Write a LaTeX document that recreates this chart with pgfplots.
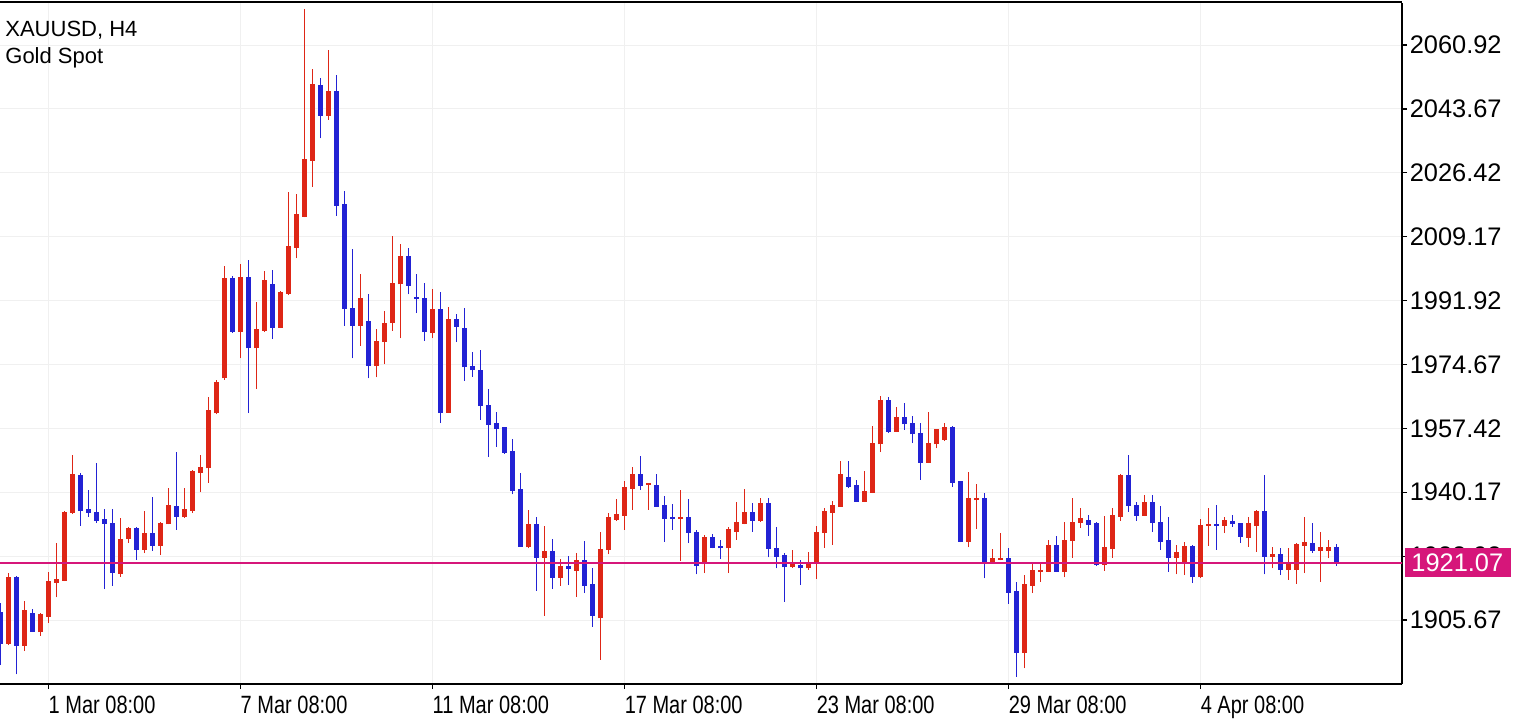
\documentclass[border=0pt]{standalone}
\usepackage{fontspec}
\setmainfont{Liberation Sans}
\usepackage{graphicx}
\usepackage{pgfplots}
\usepackage{pgfplotstable}
\pgfplotsset{compat=1.18}
\definecolor{candleup}{RGB}{222,38,22}
\definecolor{candledn}{RGB}{34,34,212}
\definecolor{bidline}{RGB}{214,22,122}
\newcommand{\xl}[1]{\scalebox{0.8}[1]{#1}}

% 4H candles, k = bar index, o h l c
\pgfplotstableread{
k o h l c
1 1899.2 1918.3 1898.9 1917.4
3 1898.7 1910.8 1897.3 1908.4
5 1902.4 1907.6 1901.4 1907.3
6 1906.6 1918.6 1904.8 1916.2
7 1915.7 1926.4 1911.8 1916.7
8 1916.3 1935.2 1916.2 1934.9
9 1934.5 1950.2 1934.4 1945.1
15 1918.1 1933.1 1917.4 1927.5
16 1927.5 1930.8 1926.4 1930.6
18 1924.6 1935.1 1923.7 1929.1
20 1925.7 1932.1 1923.2 1931.9
21 1931.5 1941.2 1931.5 1936.6
23 1933.4 1941.2 1933.3 1935.6
24 1935.1 1946.2 1934.5 1946.0
25 1945.4 1950.2 1940.2 1947.1
26 1946.6 1965.8 1942.7 1962.4
27 1961.5 1970.5 1961.2 1970.0
28 1970.9 2001.3 1970.5 1997.9
30 1983.5 2001.8 1976.3 1998.4
32 1979.0 1991.5 1968.0 1984.2
33 1983.8 1999.9 1983.4 1997.5
35 1984.6 1994.5 1984.5 1994.3
36 1993.7 2021.2 1993.4 2006.7
37 2006.2 2020.7 2003.3 2015.2
38 2014.6 2070.6 2014.4 2030.1
39 2029.7 2054.4 2022.7 2050.4
41 2041.8 2059.6 2040.7 2048.5
45 1985.1 1999.1 1979.7 1992.5
47 1974.3 1984.2 1971.2 1981.0
48 1980.7 1989.1 1974.7 1985.8
49 1985.8 2009.4 1983.8 1996.6
50 1996.3 2007.2 1981.7 2004.0
54 1983.1 1995.0 1981.7 1989.6
56 1961.6 1990.1 1961.5 1986.9
66 1925.3 1935.4 1925.0 1931.6
68 1922.5 1931.1 1906.8 1924.3
70 1917.1 1922.1 1914.9 1920.3
72 1919.0 1923.7 1912.0 1921.9
75 1906.1 1929.5 1894.9 1924.8
76 1924.6 1934.5 1923.4 1933.4
77 1932.7 1938.3 1932.4 1934.2
78 1933.8 1943.2 1930.0 1941.7
79 1941.1 1947.1 1935.4 1945.1
81 1942.1 1942.6 1935.4 1942.6
85 1932.9 1940.8 1921.7 1933.4
88 1920.7 1928.6 1918.3 1928.2
91 1925.0 1930.9 1918.3 1930.2
92 1929.5 1937.6 1927.3 1932.2
93 1931.6 1941.0 1931.5 1934.9
95 1932.5 1938.5 1932.2 1937.2
99 1919.9 1924.6 1919.8 1921.1
101 1919.6 1924.0 1919.2 1921.1
102 1921.1 1931.1 1916.7 1929.4
103 1929.1 1936.0 1925.2 1935.2
104 1934.6 1937.7 1926.0 1936.7
105 1936.3 1948.6 1936.2 1945.1
108 1937.6 1946.0 1937.5 1940.5
109 1940.0 1958.1 1939.9 1953.4
110 1953.1 1966.2 1951.0 1965.1
112 1956.5 1963.3 1956.4 1960.6
116 1948.1 1961.8 1948.0 1953.5
117 1953.1 1957.2 1952.0 1957.2
118 1954.3 1958.8 1954.0 1957.9
121 1926.8 1945.6 1925.3 1938.5
122 1938.0 1942.5 1930.2 1938.5
124 1921.2 1924.8 1921.1 1922.3
125 1921.9 1929.2 1921.8 1922.3
128 1896.7 1917.8 1892.6 1915.4
129 1914.9 1921.0 1912.9 1919.2
130 1918.7 1921.0 1916.0 1919.2
131 1918.7 1927.3 1918.6 1925.9
133 1918.7 1932.2 1917.2 1927.3
134 1927.0 1938.5 1922.5 1932.2
135 1931.8 1935.8 1930.6 1933.3
138 1920.5 1933.8 1919.0 1925.3
139 1924.8 1935.8 1922.5 1934.0
140 1933.6 1945.1 1932.5 1944.8
143 1933.8 1939.4 1933.7 1937.5
147 1922.5 1925.9 1918.0 1924.0
148 1921.4 1926.8 1917.8 1925.7
150 1917.2 1932.9 1917.1 1931.3
151 1931.1 1935.8 1925.7 1931.6
153 1931.1 1933.4 1929.1 1932.7
156 1927.9 1933.6 1925.5 1931.8
157 1931.1 1935.4 1924.1 1935.2
159 1922.8 1925.3 1919.6 1923.5
161 1919.2 1925.0 1916.5 1921.4
162 1919.2 1926.4 1915.4 1926.2
163 1925.7 1933.4 1918.3 1926.8
165 1924.4 1929.5 1916.0 1925.5
166 1924.4 1927.3 1922.3 1925.3
}\upbars

\pgfplotstableread{
k o h l c
0 1907.9 1910.3 1893.5 1899.2
2 1917.4 1917.6 1891.0 1898.7
4 1907.5 1908.6 1902.4 1902.5
10 1944.8 1945.3 1931.1 1935.2
11 1935.6 1940.8 1933.6 1934.5
12 1934.8 1948.0 1931.8 1932.4
13 1932.9 1935.6 1914.0 1931.6
14 1931.8 1935.6 1914.9 1918.3
17 1930.6 1930.8 1921.9 1924.6
19 1929.1 1938.8 1924.4 1925.7
22 1936.5 1951.0 1930.0 1933.6
29 1998.1 1998.6 1983.2 1983.5
31 1998.4 2002.9 1961.5 1979.0
34 1996.5 2000.2 1981.5 1984.6
40 2050.1 2051.9 2035.7 2041.8
42 2048.5 2052.8 2014.8 2017.5
43 2017.9 2021.5 1985.1 1989.6
44 1989.8 2005.8 1976.3 1985.1
46 1986.4 1993.7 1970.9 1974.3
51 2004.0 2006.0 1993.6 1995.9
52 1992.8 1999.1 1988.5 1992.3
53 1992.5 1996.6 1981.1 1983.4
55 1989.6 1994.2 1958.8 1961.5
57 1986.9 1988.2 1980.7 1984.9
58 1984.4 1989.8 1970.3 1973.9
59 1974.3 1978.0 1971.4 1973.1
60 1973.2 1978.6 1959.7 1963.4
61 1963.7 1968.0 1949.8 1958.3
62 1958.8 1961.8 1952.5 1957.2
63 1957.7 1957.8 1950.5 1950.8
64 1951.3 1954.5 1939.6 1940.5
65 1941.0 1945.3 1925.4 1925.5
67 1931.6 1933.4 1913.6 1922.5
69 1924.3 1927.5 1914.0 1917.1
71 1920.3 1923.0 1915.1 1919.4
73 1921.9 1927.0 1912.9 1914.9
74 1915.4 1919.8 1903.9 1906.8
80 1945.1 1950.0 1940.8 1941.9
82 1942.1 1945.1 1936.3 1936.3
83 1936.7 1939.2 1926.8 1932.9
84 1933.4 1937.0 1930.0 1932.9
86 1933.6 1938.3 1926.4 1929.1
87 1929.5 1930.0 1918.0 1920.3
89 1928.2 1928.8 1925.0 1925.2
90 1925.7 1927.3 1922.1 1925.0
94 1934.9 1937.2 1929.5 1932.5
96 1937.2 1938.5 1922.6 1924.8
97 1925.0 1930.9 1919.6 1922.8
98 1923.2 1923.7 1910.6 1919.9
100 1920.5 1921.9 1915.1 1919.6
106 1944.2 1948.6 1941.2 1941.7
107 1942.1 1943.5 1937.5 1937.6
111 1965.1 1966.0 1956.1 1956.4
113 1960.6 1964.2 1957.0 1958.5
114 1958.9 1960.8 1953.4 1955.8
115 1956.2 1958.8 1943.5 1948.1
119 1957.9 1958.0 1941.7 1942.7
120 1943.2 1943.3 1926.7 1926.8
123 1938.5 1939.9 1916.9 1921.3
126 1922.3 1925.0 1910.0 1913.0
127 1913.5 1916.0 1890.4 1896.7
132 1925.9 1928.4 1918.6 1918.7
136 1932.7 1934.0 1928.4 1931.3
137 1931.8 1932.2 1920.3 1920.5
141 1944.8 1950.2 1934.9 1936.5
142 1936.7 1937.6 1932.5 1933.8
144 1937.5 1939.4 1929.5 1931.8
145 1932.1 1936.5 1924.6 1926.8
146 1927.3 1933.4 1918.7 1922.5
149 1925.7 1925.8 1915.6 1917.2
152 1931.6 1936.7 1924.6 1931.1
154 1932.5 1934.0 1930.9 1931.5
155 1931.9 1932.0 1926.5 1928.2
158 1935.2 1944.8 1918.0 1922.8
160 1923.5 1925.0 1917.8 1919.2
164 1926.4 1931.9 1923.7 1924.4
167 1925.3 1926.1 1920.3 1921.07
}\downbars

\pgfplotsset{
  candle/.style 2 args={only marks, mark=*, mark options={opacity=0},
    error bars/.cd, y dir=plus, y explicit, error mark=none,
    error bar style={line width=#2, draw=#1, opacity=1}},
}

\begin{document}
\begin{tikzpicture}
\begin{axis}[
  at={(0pt,-342pt)}, anchor=south west,
  scale only axis, width=701pt, height=340.5pt,
  xmin=-0.04, xmax=175.2, ymin=1888.39, ymax=2072.26,
  axis x line*=bottom, axis y line*=right,
  axis line style={-, line width=1pt, black},
  tick align=outside, major tick length=2.5pt,
  tick style={black, line width=0.6pt},
  xtick={6,30,54,78,102,126,150},
  xticklabels={\xl{1 Mar 08:00},\xl{7 Mar 08:00},\xl{11 Mar 08:00},\xl{17 Mar 08:00},\xl{23 Mar 08:00},\xl{29 Mar 08:00},\xl{4 Apr 08:00}},
  ytick={1905.67,1922.92,1940.17,1957.42,1974.67,1991.92,2009.17,2026.42,2043.67,2060.92},
  yticklabels={1905.67,1922.92,1940.17,1957.42,1974.67,1991.92,2009.17,2026.42,2043.67,2060.92},
  xticklabel style={anchor=north west, inner sep=0pt, yshift=-3.5pt, font=\fontsize{12.5pt}{14pt}\selectfont},
  yticklabel style={anchor=west, inner sep=0pt, xshift=1.2pt, font=\fontsize{12.7pt}{14pt}\selectfont},
  xmajorgrids, ymajorgrids, grid style={black!6, line width=0.5pt},
]
% wicks
\addplot[candle={candleup}{0.75pt}]
  table[x=k, y=l, y error plus expr=\thisrow{h}-\thisrow{l}] {\upbars};
\addplot[candle={candledn}{0.75pt}]
  table[x=k, y=l, y error plus expr=\thisrow{h}-\thisrow{l}] {\downbars};
% bodies
\addplot[candle={candleup}{2.6pt}]
  table[x=k, y=o, y error plus expr={max(\thisrow{c}-\thisrow{o},0.4)}] {\upbars};
\addplot[candle={candledn}{2.6pt}]
  table[x=k, y=c, y error plus expr={max(\thisrow{o}-\thisrow{c},0.4)}] {\downbars};
% bid line
\addplot[bidline, line width=1.4pt] coordinates {(-2,1921.07) (177,1921.07)};
\end{axis}
\draw[line width=1.2pt] (0pt,-1pt) -- (701pt,-1pt);
\fill[bidline] (702.5pt,-274pt) rectangle (755.5pt,-288.5pt);
\node[anchor=west, inner sep=0pt, text=white, font=\fontsize{12.7pt}{14pt}\selectfont] at (705.5pt,-281.25pt) {1921.07};
\node[anchor=base west, inner sep=0pt, font=\fontsize{11pt}{13pt}\selectfont] at (2.5pt,-18pt) {XAUUSD, H4};
\node[anchor=base west, inner sep=0pt, font=\fontsize{11pt}{13pt}\selectfont] at (2.5pt,-31.5pt) {Gold Spot};
\pgfresetboundingbox
\path (0pt,0pt) rectangle (765pt,-360pt);
\end{tikzpicture}
\end{document}
